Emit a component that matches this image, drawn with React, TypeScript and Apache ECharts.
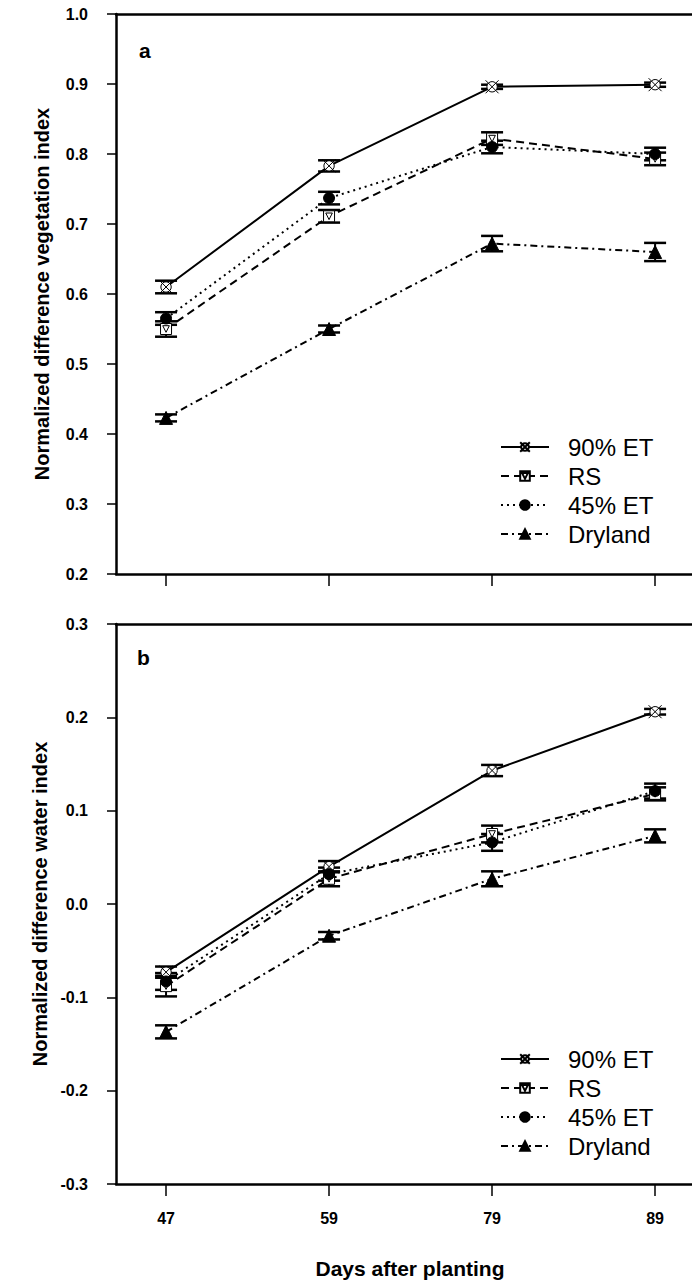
import React, { useEffect, useRef } from "react";
import * as echarts from "echarts";

// Days after planting (evenly spaced sampling dates)
const days = ["47", "59", "79", "89"];
const treatments = ["90% ET", "RS", "45% ET", "Dryland"];

// Panel a: NDVI means and standard errors
const ndvi90 = [0.61, 0.783, 0.896, 0.899];
const ndviRS = [0.55, 0.711, 0.822, 0.793];
const ndvi45 = [0.565, 0.737, 0.81, 0.8];
const ndviDry = [0.423, 0.55, 0.672, 0.66];
const ndvi90Err = [0.009, 0.008, 0.003, 0.003];
const ndviRSErr = [0.011, 0.009, 0.009, 0.009];
const ndvi45Err = [0.009, 0.009, 0.009, 0.009];
const ndviDryErr = [0.005, 0.005, 0.011, 0.013];

// Panel b: NDWI means and standard errors
const ndwi90 = [-0.073, 0.04, 0.143, 0.206];
const ndwiRS = [-0.088, 0.027, 0.075, 0.118];
const ndwi45 = [-0.083, 0.032, 0.066, 0.121];
const ndwiDry = [-0.137, -0.034, 0.027, 0.073];
const ndwi90Err = [0.006, 0.006, 0.006, 0.003];
const ndwiRSErr = [0.011, 0.008, 0.009, 0.007];
const ndwi45Err = [0.009, 0.007, 0.009, 0.008];
const ndwiDryErr = [0.007, 0.004, 0.008, 0.007];

const FONT = "'Liberation Sans', Arial, Helvetica, sans-serif";

// circle crossed by an X, and a square holding a downward triangle
const crossCircle =
  "path://M1 1L11 11M11 1L1 11M10 6A4 4 0 1 1 2 6A4 4 0 1 1 10 6Z";
const squareTri = "path://M0 0L10 0L10 10L0 10ZM2 2L8 2L5 8Z";

type Style = {
  symbol: string;
  size: number;
  fill: string;
  dash: any;
};

const styles: Record<string, Style> = {
  "90% ET": { symbol: crossCircle, size: 13, fill: "#fff", dash: "solid" },
  RS: { symbol: squareTri, size: 11, fill: "#fff", dash: [8, 5] },
  "45% ET": { symbol: "circle", size: 11, fill: "#000", dash: [2, 4] },
  Dryland: { symbol: "triangle", size: 13, fill: "#000", dash: [7, 4, 2, 4] },
};

const panelA: [string, number[], number[]][] = [
  ["90% ET", ndvi90, ndvi90Err],
  ["RS", ndviRS, ndviRSErr],
  ["45% ET", ndvi45, ndvi45Err],
  ["Dryland", ndviDry, ndviDryErr],
];
const panelB: [string, number[], number[]][] = [
  ["90% ET", ndwi90, ndwi90Err],
  ["RS", ndwiRS, ndwiRSErr],
  ["45% ET", ndwi45, ndwi45Err],
  ["Dryland", ndwiDry, ndwiDryErr],
];

const errorBarRender = (params: any, api: any) => {
  const x = api.value(0);
  const lo = api.coord([x, api.value(1)]);
  const hi = api.coord([x, api.value(2)]);
  const hw = 11;
  const cap = { stroke: "#000", lineWidth: 2.5 };
  return {
    type: "group",
    children: [
      {
        type: "line",
        shape: { x1: lo[0], y1: lo[1], x2: hi[0], y2: hi[1] },
        style: { stroke: "#000", lineWidth: 2 },
      },
      {
        type: "line",
        shape: { x1: lo[0] - hw, y1: lo[1], x2: lo[0] + hw, y2: lo[1] },
        style: cap,
      },
      {
        type: "line",
        shape: { x1: hi[0] - hw, y1: hi[1], x2: hi[0] + hw, y2: hi[1] },
        style: cap,
      },
    ],
  };
};

function buildSeries(panel: [string, number[], number[]][], idx: number) {
  const out: any[] = [];
  // x axes 0/1 are the bottom axes of panels a/b
  panel.forEach(([name, vals, errs]) => {
    out.push({
      type: "custom",
      name: name + " error",
      xAxisIndex: idx,
      yAxisIndex: idx,
      z: 2,
      renderItem: errorBarRender,
      encode: { x: 0, y: [1, 2] },
      data: vals.map((v, i) => [i, v - errs[i], v + errs[i]]),
    });
  });
  panel.forEach(([name, vals]) => {
    const s = styles[name];
    out.push({
      type: "line",
      name,
      xAxisIndex: idx,
      yAxisIndex: idx,
      z: 3,
      symbol: s.symbol,
      symbolSize: s.size,
      showSymbol: true,
      itemStyle: { color: s.fill, borderColor: "#000", borderWidth: 1 },
      lineStyle: { color: "#000", width: 2, type: s.dash },
      data: vals.map((v, i) => [i, v]),
    });
  });
  return out;
}

const tickLabel = {
  fontFamily: FONT,
  fontSize: 16,
  fontWeight: "bold",
  color: "#000",
};

const X_MIN = -0.307;
const X_MAX = 3.3;

function xAxis(gridIndex: number, withLabels: boolean) {
  return {
    type: "value",
    gridIndex,
    min: X_MIN,
    max: X_MAX,
    axisLine: {
      show: true,
      onZero: false,
      lineStyle: { color: "#000", width: 2.5 },
    },
    axisTick: {
      show: true,
      customValues: [0, 1, 2, 3],
      length: 12,
      lineStyle: { color: "#000", width: 1.5 },
    },
    axisLabel: {
      show: withLabels,
      customValues: [0, 1, 2, 3],
      formatter: (v: number) => days[Math.round(v)] ?? "",
      margin: 26,
      ...tickLabel,
    },
    splitLine: { show: false },
    name: withLabels ? "Days after planting" : "",
    nameLocation: "middle",
    nameGap: 74,
    nameTextStyle: {
      fontFamily: FONT,
      fontSize: 21,
      fontWeight: "bold",
      color: "#000",
    },
  };
}

// frame line along the top of each panel
function topAxis(gridIndex: number) {
  return {
    type: "value",
    gridIndex,
    position: "top",
    min: X_MIN,
    max: X_MAX,
    axisLine: {
      show: true,
      onZero: false,
      lineStyle: { color: "#000", width: 2.5 },
    },
    axisTick: { show: false },
    axisLabel: { show: false },
    splitLine: { show: false },
  };
}

function yAxis(gridIndex: number, min: number, max: number, name: string) {
  return {
    type: "value",
    gridIndex,
    min,
    max,
    interval: 0.1,
    axisLine: {
      show: true,
      onZero: false,
      lineStyle: { color: "#000", width: 2.5 },
    },
    axisTick: { show: true, length: 9, lineStyle: { color: "#000", width: 1.5 } },
    axisLabel: {
      margin: 28,
      formatter: (v: number) => v.toFixed(1),
      ...tickLabel,
    },
    splitLine: { show: false },
    name,
    nameLocation: "middle",
    nameGap: 64,
    nameTextStyle: {
      fontFamily: FONT,
      fontSize: 20,
      fontWeight: "bold",
      color: "#000",
    },
  };
}

function legend(top: number) {
  return {
    data: treatments,
    orient: "vertical",
    left: 495,
    top,
    itemWidth: 48,
    itemHeight: 12,
    itemGap: 5,
    selectedMode: false,
    textStyle: {
      fontFamily: FONT,
      fontSize: 24,
      color: "#000",
      lineHeight: 24,
      padding: [0, 0, 0, 14],
    },
  };
}

const gridBase = {
  left: 116,
  width: 588,
  height: 560,
  show: false,
  containLabel: false,
  outerBoundsMode: "none",
};

export default function App() {
  const ref = useRef<HTMLDivElement>(null);

  useEffect(() => {
    if (!ref.current) return;
    const chart = echarts.init(ref.current, null, { renderer: "svg" });
    chart.setOption({
      animation: false,
      backgroundColor: "#fff",
      grid: [
        { ...gridBase, top: 14 },
        { ...gridBase, top: 624 },
      ],
      xAxis: [xAxis(0, false), xAxis(1, true), topAxis(0), topAxis(1)],
      yAxis: [
        yAxis(0, 0.2, 1.0, "Normalized difference vegetation index"),
        yAxis(1, -0.3, 0.3, "Normalized difference water index"),
      ],
      legend: [legend(430), legend(1042)],
      graphic: [
        {
          type: "text",
          left: 139,
          top: 40,
          style: {
            text: "a",
            fontFamily: FONT,
            fontSize: 21,
            fontWeight: "bold",
            fill: "#000",
          },
        },
        {
          type: "text",
          left: 137,
          top: 647,
          style: {
            text: "b",
            fontFamily: FONT,
            fontSize: 21,
            fontWeight: "bold",
            fill: "#000",
          },
        },
      ],
      series: [...buildSeries(panelA, 0), ...buildSeries(panelB, 1)],
    });
    return () => chart.dispose();
  }, []);

  return (
    <div
      ref={ref}
      style={{
        position: "absolute",
        left: 0,
        top: 0,
        width: 692,
        height: 1285,
        background: "#fff",
      }}
    />
  );
}
